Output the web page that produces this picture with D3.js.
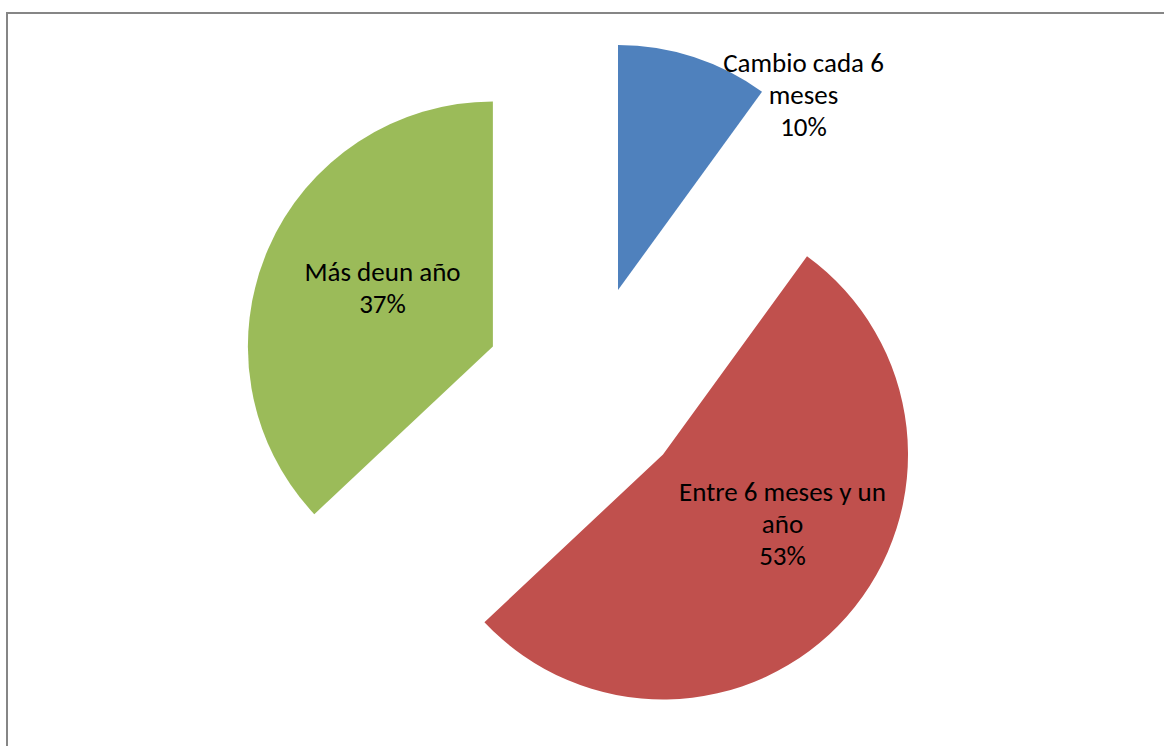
<!DOCTYPE html>
<html>
<head>
<meta charset="utf-8">
<script src="https://cdn.jsdelivr.net/npm/d3@7"></script>
<style>
  html, body { margin: 0; padding: 0; background: #fff; }
  svg { display: block; }
</style>
</head>
<body>
<svg id="chart" width="1164" height="746"></svg>
<script>
// Share of respondents by how often they change
const categories = ["Cambio cada 6 meses", "Entre 6 meses y un año", "Más deun año"];
const values = [10, 53, 37];
const labelLines = [
  ["Cambio cada 6", "meses", "10%"],
  ["Entre 6 meses y un", "año", "53%"],
  ["Más deun año", "37%"]
];
const colors = ["#4F81BD", "#C0504D", "#9BBB59"];

const W = 1164, H = 746;
const cx = 586.5, cy = 387;     // pie centre
const radius = 245;
const explode = 102;            // distance each slice is pulled out
// label block centres relative to the pie centre
const labelOffsets = [[217, -292], [196, 137], [-204, -99]];
const lineHeight = 32;

const svg = d3.select("#chart");

// chart area frame
svg.append("rect")
  .attr("x", 7).attr("y", 13)
  .attr("width", W + 20).attr("height", H + 20)
  .attr("fill", "none")
  .attr("stroke", "#868686")
  .attr("stroke-width", 2);

const pie = d3.pie().sort(null).value(d => d).startAngle(0).endAngle(2 * Math.PI);
const arc = d3.arc().innerRadius(0).outerRadius(radius);
const arcs = pie(values);

const g = svg.append("g").attr("transform", `translate(${cx},${cy})`);

g.selectAll("path.slice")
  .data(arcs)
  .join("path")
  .attr("class", "slice")
  .attr("d", arc)
  .attr("fill", (d, i) => colors[i])
  .attr("transform", d => {
    const mid = (d.startAngle + d.endAngle) / 2;
    return `translate(${explode * Math.sin(mid)},${-explode * Math.cos(mid)})`;
  });

const labels = g.selectAll("text.lbl")
  .data(arcs)
  .join("text")
  .attr("class", "lbl")
  .attr("text-anchor", "middle")
  .attr("font-family", "Carlito, Calibri, Lato, sans-serif")
  .attr("font-size", 27)
  .attr("fill", "#000")
  .attr("transform", (d, i) => `translate(${labelOffsets[i][0]},${labelOffsets[i][1]})`);

labels.each(function (d, i) {
  const lines = labelLines[i];
  const n = lines.length;
  d3.select(this).selectAll("tspan")
    .data(lines)
    .join("tspan")
    .attr("x", 0)
    .attr("y", (t, j) => (j - (n - 1) / 2) * lineHeight)
    .attr("dy", "0.35em")
    .text(t => t);
});
</script>
</body>
</html>
